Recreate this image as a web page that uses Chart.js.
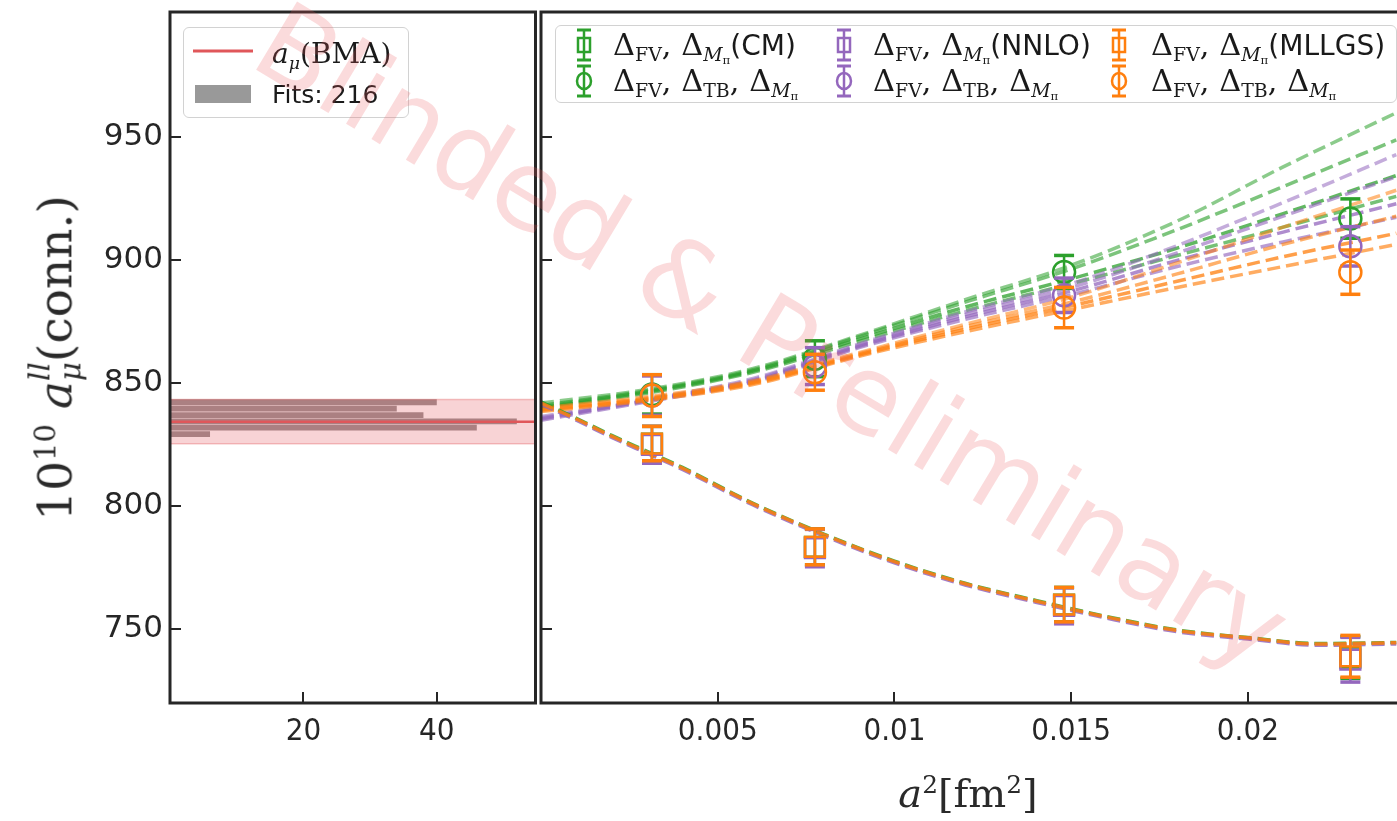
<!DOCTYPE html>
<html>
<head>
<meta charset="utf-8">
<script src="https://cdn.jsdelivr.net/npm/chart.js@4.4.1/dist/chart.umd.min.js"></script>
<style>
  html, body { margin: 0; padding: 0; width: 1397px; height: 821px; overflow: hidden; background: #fff; }
  canvas { position: absolute; top: 0; }
  #left { left: 0; }
  #right { left: 536px; }
  .box { position: absolute; background: rgba(255,255,255,0.85); border: 1.5px solid #d2d2d2; border-radius: 6px; }
  .txt { position: absolute; white-space: nowrap; line-height: 1; transform: translateY(-50%); color: #1a1a1a; }
  .m { font-family: 'DejaVu Serif', serif; }
  .s { font-family: 'DejaVu Sans', sans-serif; }
  sub, sup { line-height: 0; font-size: 0.62em; }
  sub { vertical-align: -0.32em; }
  sup { vertical-align: 0.55em; }
  .ss { display: inline-flex; flex-direction: column; vertical-align: 0.75em; line-height: 1.05; font-size: 0.62em; }
  #ytitle { position: absolute; left: 55px; top: 358px; transform: translate(-50%, -50%) rotate(-90deg); font-size: 47px; white-space: nowrap; color: #2a2a2a; }
  #xtitle { position: absolute; left: 968px; top: 793px; transform: translate(-50%, -50%); font-size: 40px; white-space: nowrap; color: #2a2a2a; }
  #mark { position: absolute; left: 772px; top: 336px; transform: translate(-50%, -50%) rotate(31deg);
          font-family: 'DejaVu Sans', sans-serif; font-size: 109px; color: rgba(235, 90, 95, 0.22); white-space: nowrap; pointer-events: none; }
</style>
</head>
<body>
<canvas id="left" width="540" height="821"></canvas>
<canvas id="right" width="861" height="821"></canvas>

<div class="box" style="left:183px; top:27px; width:224px; height:89px;">
  <svg width="224" height="89" style="position:absolute;left:0;top:0">
    <line x1="9" y1="23" x2="69" y2="23" stroke="#e0575a" stroke-width="3"/>
    <rect x="11" y="57" width="56" height="18" fill="#999"/>
  </svg>
  <div class="txt m" style="left:88px; top:26px; font-size:28px;"><i>a</i><sub><i>μ</i></sub>(BMA)</div>
  <div class="txt s" style="left:88px; top:66px; font-size:25px;">Fits: 216</div>
</div>

<div class="box" id="rleg" style="left:555px; top:25px; width:840px; height:76px;"></div>

<div id="ytitle" class="m">10<sup>10</sup> <i>a</i><span class="ss"><i>ll</i><i>μ</i></span>(conn.)</div>
<div id="xtitle" class="m"><i>a</i><sup>2</sup>[fm<sup>2</sup>]</div>
<div id="mark">Blinded &amp; Preliminary</div>

<script>
// x positions of the four ensembles, a^2 in fm^2
const a2 = [0.00314, 0.00775, 0.0148, 0.0229];
const a2Ticks = [0.005, 0.01, 0.015, 0.02];
const a2TickLabels = ['0.005', '0.01', '0.015', '0.02'];
const yTicks = [750, 800, 850, 900, 950];
const histTicks = [20, 40];

// histogram of the 216 fits (bin centre, count) and the BMA result
const histBins = [842.3, 839.75, 837.1, 834.55, 832.0, 829.35];
const histCounts = [40, 34, 38, 52, 46, 6];
const bmaValue = 834.4;
const bmaErr = 9;

// squares: FV + M_pi corrections only
const sqGreen = [825.5, 783.5, 760, 738.5];
const sqGreenErr = [7, 7.3, 7, 8.5];
const sqPurple = [825, 783, 759.5, 737.6];
const sqPurpleErr = [7.5, 7.6, 7.3, 9.1];
const sqOrange = [825.5, 783.5, 760, 739];
const sqOrangeErr = [7, 7.3, 7, 8.5];

// circles: FV + TB + M_pi corrections
const ciGreen = [845.5, 860, 895.3, 917];
const ciGreenErr = [8, 7.3, 6.7, 8];
const ciPurple = [845, 857, 885.8, 905.7];
const ciPurpleErr = [8, 7.5, 7, 8];
const ciOrange = [845, 854.5, 880.8, 895.2];
const ciOrangeErr = [8.5, 7.3, 8.2, 9];

// dashed fit curves, upper branch
const fitX = [0, 0.003, 0.006, 0.009, 0.012, 0.015, 0.018, 0.021, 0.0242];
const fitGreen = [
  [842, 847.5, 856, 869.5, 884, 898, 916, 938, 960],
  [841, 847, 855.5, 869, 883, 896.5, 912.5, 930, 949],
  [840.5, 846.5, 855, 868, 881, 892.5, 905, 919, 934.5],
  [840, 846, 854.5, 867, 879.5, 890.5, 902, 913.5, 926]
];
const fitPurple = [
  [836.5, 843.5, 852, 866, 879, 890.5, 906, 923.5, 943],
  [836, 843, 851.5, 865.5, 878, 889, 903, 918, 934],
  [835.5, 843, 851, 865, 877, 887.5, 900, 911.5, 923],
  [835, 842.5, 850.5, 864.5, 876, 886, 897.5, 907.5, 917.5]
];
const fitOrange = [
  [840, 844.5, 851, 862.5, 874, 885, 899, 913.5, 928.5],
  [839.5, 844, 850.5, 862, 873, 883, 894.5, 906.5, 918],
  [839, 843.5, 850, 861.5, 872, 881.5, 891.5, 901.5, 911],
  [838.5, 843, 849.5, 861, 871, 880, 889, 897.5, 906.5]
];
const fitAlpha = [0.55, 0.62, 0.75, 0.65];

// lower branch fit curves
const lowX = [0, 0.001, 0.002, 0.003, 0.004, 0.006, 0.008, 0.010, 0.012, 0.014, 0.016, 0.018, 0.020, 0.022, 0.0242];
const lowGreen = [842.5, 835.8, 828.8, 822.3, 815.8, 801.2, 788.7, 777.7, 768.7, 761.7, 755.2, 749.7, 746.6, 744.2, 744.6];
const lowPurple = [841.5, 835, 828, 821.5, 815, 800.5, 788, 777, 768, 761, 754.5, 749, 746, 743.5, 744];
const lowOrange = [842, 835.5, 828.5, 822, 815.5, 801, 788.5, 777.5, 768.5, 761.5, 755, 749.5, 746.5, 744, 744.5];

const GREEN = '#2ca02c', PURPLE = '#9467bd', ORANGE = '#ff7f0e';
const INK = '#262626';

const legendRows = [
  { color: GREEN, shape: 'sq', tag: '(CM)' },
  { color: PURPLE, shape: 'sq', tag: '(NNLO)' },
  { color: ORANGE, shape: 'sq', tag: '(MLLGS)' },
  { color: GREEN, shape: 'ci' },
  { color: PURPLE, shape: 'ci' },
  { color: ORANGE, shape: 'ci' }
];

function rgba(hex, a) {
  const n = parseInt(hex.slice(1), 16);
  return `rgba(${n >> 16}, ${(n >> 8) & 255}, ${n & 255}, ${a})`;
}

// legend of the right panel (html, because of the subscripts)
const rleg = document.getElementById('rleg');
const colMarker = [28, 288, 563];
const colText = [57, 317, 595];
const rowY = [19, 55];
legendRows.forEach((r, i) => {
  const col = i % 3, row = Math.floor(i / 3);
  const body = r.shape === 'sq'
    ? `<rect x="9" y="11" width="12" height="14" fill="none" stroke="${r.color}" stroke-width="2.5"/>`
    : `<ellipse cx="15" cy="18" rx="7" ry="8" fill="none" stroke="${r.color}" stroke-width="2.5"/>`;
  rleg.insertAdjacentHTML('beforeend',
    `<svg width="30" height="36" style="position:absolute;left:${colMarker[col] - 15}px;top:${rowY[row] - 18}px">
      <line x1="15" y1="3" x2="15" y2="33" stroke="${r.color}" stroke-width="2.5"/>
      <line x1="8" y1="3" x2="22" y2="3" stroke="${r.color}" stroke-width="3"/>
      <line x1="8" y1="33" x2="22" y2="33" stroke="${r.color}" stroke-width="3"/>${body}</svg>`);
  const label = r.tag
    ? `Δ<sub>FV</sub>, Δ<sub><i>M</i><sub>π</sub></sub><span class="s" style="font-size:0.92em">${r.tag}</span>`
    : `Δ<sub>FV</sub>, Δ<sub>TB</sub>, Δ<sub><i>M</i><sub>π</sub></sub>`;
  rleg.insertAdjacentHTML('beforeend',
    `<div class="txt m" style="left:${colText[col]}px; top:${rowY[row]}px; font-size:30.5px;">${label}</div>`);
});

// black frame round the plot area, with inward tick marks at the scale ticks
const framePlugin = {
  id: 'frame',
  afterDraw(chart, args, opts) {
    const { ctx, chartArea: a, scales } = chart;
    ctx.save();
    ctx.strokeStyle = INK;
    ctx.lineWidth = 2;
    ctx.beginPath();
    scales.x.ticks.forEach(t => {
      const px = Math.round(scales.x.getPixelForValue(t.value));
      ctx.moveTo(px, a.bottom);
      ctx.lineTo(px, a.bottom - 11);
    });
    scales.y.ticks.forEach(t => {
      const py = Math.round(scales.y.getPixelForValue(t.value));
      ctx.moveTo(a.left, py);
      ctx.lineTo(a.left + 11, py);
    });
    ctx.stroke();
    ctx.lineWidth = 3;
    ctx.beginPath();
    if (opts.closed) {
      ctx.rect(a.left, a.top, a.right - a.left, a.bottom - a.top);
    } else {
      ctx.moveTo(a.right + 5, a.top);
      ctx.lineTo(a.left, a.top);
      ctx.lineTo(a.left, a.bottom);
      ctx.lineTo(a.right + 5, a.bottom);
    }
    ctx.stroke();
    ctx.restore();
  }
};

const yTickFont = { family: 'DejaVu Sans', size: 31 };
const xTickFont = { family: "'DejaVu Sans Condensed', 'Liberation Sans Narrow', 'DejaVu Sans'", size: 31 };

function yScale(width, showLabels) {
  return {
    type: 'linear', min: 720, max: 1001, offset: false,
    afterBuildTicks: s => { s.ticks = yTicks.map(v => ({ value: v })); },
    afterFit: s => { s.width = width; s.paddingTop = 0; s.paddingBottom = 0; },
    ticks: { font: yTickFont, color: INK, padding: 7, callback: v => showLabels ? String(v) : '' },
    grid: { display: false, offset: false, drawTicks: false }, border: { display: false }
  };
}

function xScale(max, ticks, labels) {
  return {
    type: 'linear', min: 0, max, offset: false,
    afterBuildTicks: s => { s.ticks = ticks.map(v => ({ value: v })); },
    afterFit: s => { s.height = 118; s.paddingLeft = 0; s.paddingRight = 0; },
    ticks: { font: xTickFont, color: INK, padding: 10, maxRotation: 0, autoSkip: false,
             callback: (v, i) => labels[i] },
    grid: { display: false, offset: false, drawTicks: false }, border: { display: false }
  };
}

// ---------- left panel: histogram of fits ----------
const bandUpper = [{ x: 0, y: bmaValue + bmaErr }, { x: 60, y: bmaValue + bmaErr }];
const bandLower = [{ x: 0, y: bmaValue - bmaErr }, { x: 60, y: bmaValue - bmaErr }];

new Chart(document.getElementById('left'), {
  type: 'bar',
  data: {
    datasets: [
      {
        type: 'line', data: [{ x: 0, y: bmaValue }, { x: 60, y: bmaValue }],
        borderColor: '#e0575a', borderWidth: 2.5, pointRadius: 0, order: 1
      },
      {
        type: 'bar', indexAxis: 'y',
        data: histBins.map((b, i) => ({ y: b, x: histCounts[i] })),
        backgroundColor: 'rgba(115,105,105,0.72)', barPercentage: 0.92, categoryPercentage: 1, order: 3
      },
      {
        type: 'line', data: bandUpper, borderColor: 'rgba(224,87,90,0.35)', borderWidth: 1.5,
        pointRadius: 0, fill: false, order: 2
      },
      {
        type: 'line', data: bandLower, borderColor: 'rgba(224,87,90,0.35)', borderWidth: 1.5,
        pointRadius: 0, fill: '-1', backgroundColor: 'rgba(224,70,80,0.24)', order: 2
      }
    ]
  },
  options: {
    responsive: false, animation: false,
    layout: { autoPadding: false, padding: { top: 12, right: 4.5, left: 0, bottom: 0 } },
    plugins: { legend: { display: false }, tooltip: { enabled: false }, frame: { closed: true } },
    scales: {
      x: xScale(54.8, histTicks, histTicks.map(String)),
      y: yScale(170, true)
    }
  },
  plugins: [framePlugin]
});

// ---------- right panel: continuum extrapolation ----------
function fitSets(curves, xs, color, alphas, order) {
  return curves.map((ys, i) => ({
    type: 'line',
    data: xs.map((x, j) => ({ x, y: ys[j] })),
    borderColor: rgba(color, alphas[i]),
    borderWidth: 3.5, borderDash: [13, 6], pointRadius: 0,
    cubicInterpolationMode: 'monotone', order
  }));
}

function errSet(vals, errs, color, order) {
  const pts = [];
  a2.forEach((x, i) => {
    pts.push({ x, y: vals[i] - errs[i] }, { x, y: vals[i] + errs[i] }, { x, y: null });
  });
  return {
    type: 'line', data: pts, borderColor: color, borderWidth: 2.5, spanGaps: false,
    pointStyle: 'line', pointRadius: 10, pointBorderWidth: 3.5, pointBorderColor: color, order
  };
}

function markerSet(vals, color, style, order) {
  return {
    type: 'line', showLine: false, data: a2.map((x, i) => ({ x, y: vals[i] })),
    pointStyle: style, pointRadius: style === 'rect' ? 14 : 11, pointBorderWidth: 2.5,
    pointBorderColor: color, pointBackgroundColor: 'rgba(0,0,0,0)', order
  };
}

const rightSets = [
  ...fitSets(fitGreen, fitX, GREEN, fitAlpha, 60),
  ...fitSets(fitPurple, fitX, PURPLE, fitAlpha, 55),
  ...fitSets(fitOrange, fitX, ORANGE, fitAlpha, 50),
  ...fitSets([lowGreen], lowX, GREEN, [0.85], 45),
  ...fitSets([lowPurple], lowX, PURPLE, [0.85], 44),
  ...fitSets([lowOrange], lowX, ORANGE, [0.85], 43),
  errSet(sqGreen, sqGreenErr, GREEN, 30), markerSet(sqGreen, GREEN, 'rect', 30),
  errSet(ciGreen, ciGreenErr, GREEN, 30), markerSet(ciGreen, GREEN, 'circle', 30),
  errSet(sqPurple, sqPurpleErr, PURPLE, 20), markerSet(sqPurple, PURPLE, 'rect', 20),
  errSet(ciPurple, ciPurpleErr, PURPLE, 20), markerSet(ciPurple, PURPLE, 'circle', 20),
  errSet(sqOrange, sqOrangeErr, ORANGE, 10), markerSet(sqOrange, ORANGE, 'rect', 10),
  errSet(ciOrange, ciOrangeErr, ORANGE, 10), markerSet(ciOrange, ORANGE, 'circle', 10)
];

new Chart(document.getElementById('right'), {
  type: 'line',
  data: { datasets: rightSets },
  options: {
    responsive: false, animation: false,
    layout: { autoPadding: false, padding: { top: 12, right: 0, left: 0, bottom: 0 } },
    plugins: { legend: { display: false }, tooltip: { enabled: false }, frame: { closed: false } },
    scales: {
      x: xScale(0.02422, a2Ticks, a2TickLabels),
      y: yScale(5, false)
    }
  },
  plugins: [framePlugin]
});
</script>
</body>
</html>
